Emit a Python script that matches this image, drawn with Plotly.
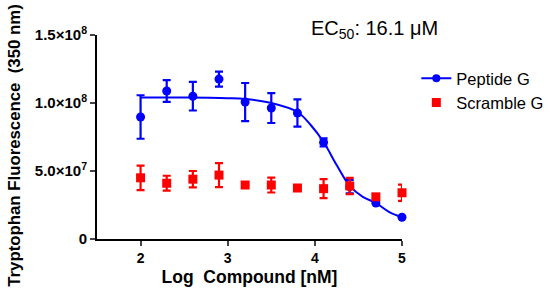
import plotly.graph_objects as go

log_conc = [2.0, 2.3, 2.6, 2.9, 3.2, 3.5, 3.8, 4.1, 4.4, 4.7, 5.0]

peptide_vals = [8.97e7, 1.088e8, 1.05e8, 1.176e8, 1.007e8, 0.963e8, 0.926e8, 0.71e8, 0.385e8, 0.265e8, 0.16e8]
peptide_err = [1.6e7, 0.8e7, 1.05e7, 0.55e7, 1.4e7, 1.1e7, 1.0e7, 0.3e7, 0.5e7, 0, 0]

scramble_vals = [0.45e8, 0.41e8, 0.44e8, 0.47e8, 0.397e8, 0.397e8, 0.375e8, 0.37e8, 0.39e8, 0.31e8, 0.34e8]
scramble_err = [0.9e7, 0.55e7, 0.6e7, 0.88e7, 0, 0.55e7, 0, 0.7e7, 0.6e7, 0.2e7, 0.6e7]

# fitted curve
curve_x = [2.0, 2.5, 3.0, 3.2, 3.5, 3.8, 3.95, 4.1, 4.25, 4.4, 4.55, 4.7, 4.85, 5.0]
curve_y = [1.04e8, 1.04e8, 1.035e8, 1.029e8, 1.0e8, 0.934e8, 0.84e8, 0.713e8, 0.544e8, 0.39e8, 0.31e8, 0.265e8, 0.2e8, 0.16e8]

y_tickvals = [0, 5e7, 1e8, 1.5e8]
y_ticktext = ["0", "5.0×10<sup>7</sup>", "1.0×10<sup>8</sup>", "1.5×10<sup>8</sup>"]
x_tickvals = [2, 3, 4, 5]

BLUE = "#0000FF"
RED = "#FF0000"
FONT = "Liberation Sans"
PAD = "\u00a0"

fig = go.Figure()

fig.add_trace(go.Scatter(
    x=curve_x, y=curve_y, mode="lines", line=dict(color=BLUE, width=2, shape="spline"),
    showlegend=False, cliponaxis=False, hoverinfo="skip"))

fig.add_trace(go.Scatter(
    x=log_conc, y=peptide_vals, mode="markers",
    marker=dict(color=BLUE, size=9, symbol="circle"),
    error_y=dict(type="data", array=peptide_err, color=BLUE, thickness=2.2, width=4),
    showlegend=False, cliponaxis=False))

fig.add_trace(go.Scatter(
    x=log_conc, y=scramble_vals, mode="markers",
    marker=dict(color=RED, size=9, symbol="square"),
    error_y=dict(type="data", array=scramble_err, color=RED, thickness=2.2, width=4),
    name="Scramble G" + PAD, cliponaxis=False))

fig.add_trace(go.Scatter(
    x=[None], y=[None], mode="lines+markers",
    line=dict(color=BLUE, width=2), marker=dict(color=BLUE, size=8, symbol="circle"),
    name="Peptide G" + PAD))

fig.update_layout(
    width=550, height=291,
    margin=dict(l=97, r=148, t=35, b=52, autoexpand=False),
    paper_bgcolor="white", plot_bgcolor="white",
    font=dict(family=FONT, color="black"),
    showlegend=True,
    legend=dict(x=1.047, xanchor="left", y=0.873, yanchor="top", traceorder="reversed",
                font=dict(size=16.5, family=FONT), itemwidth=30, tracegroupgap=0,
                bgcolor="rgba(0,0,0,0)"),
    xaxis=dict(range=[1.5, 5], tickvals=x_tickvals, ticks="outside", ticklen=5, tickwidth=2,
               showline=True, linewidth=2, linecolor="black", showgrid=False, zeroline=False,
               automargin=False,
               tickfont=dict(size=14, family=FONT, weight="bold"),
               title=dict(text="Log\u00a0\u00a0Compound [nM]",
                          font=dict(size=17.5, family=FONT, weight="bold"), standoff=6)),
    yaxis=dict(range=[0, 1.5e8], tickvals=y_tickvals, ticktext=y_ticktext, ticks="outside",
               ticklen=5, tickwidth=2, showline=True, linewidth=2, linecolor="black",
               showgrid=False, zeroline=False, automargin=False,
               tickfont=dict(size=15, family=FONT, weight="bold")),
    annotations=[
        dict(text="EC<sub>50</sub>: 16.1 μM", xref="paper", yref="paper",
             x=0.91, y=1.025, xanchor="center", yanchor="middle", showarrow=False,
             font=dict(size=20, family=FONT, color="black")),
        dict(text="Tryptophan Fluorescence\u00a0\u00a0(350 nm)", xref="paper", yref="paper",
             x=-0.27, y=0.46, xanchor="center", yanchor="middle", textangle=-90,
             showarrow=False, font=dict(size=16.8, family=FONT, color="black", weight="bold")),
    ],
)

fig.write_html("out.html", config={"displayModeBar": False},
               post_script="document.body.style.margin='0';")
